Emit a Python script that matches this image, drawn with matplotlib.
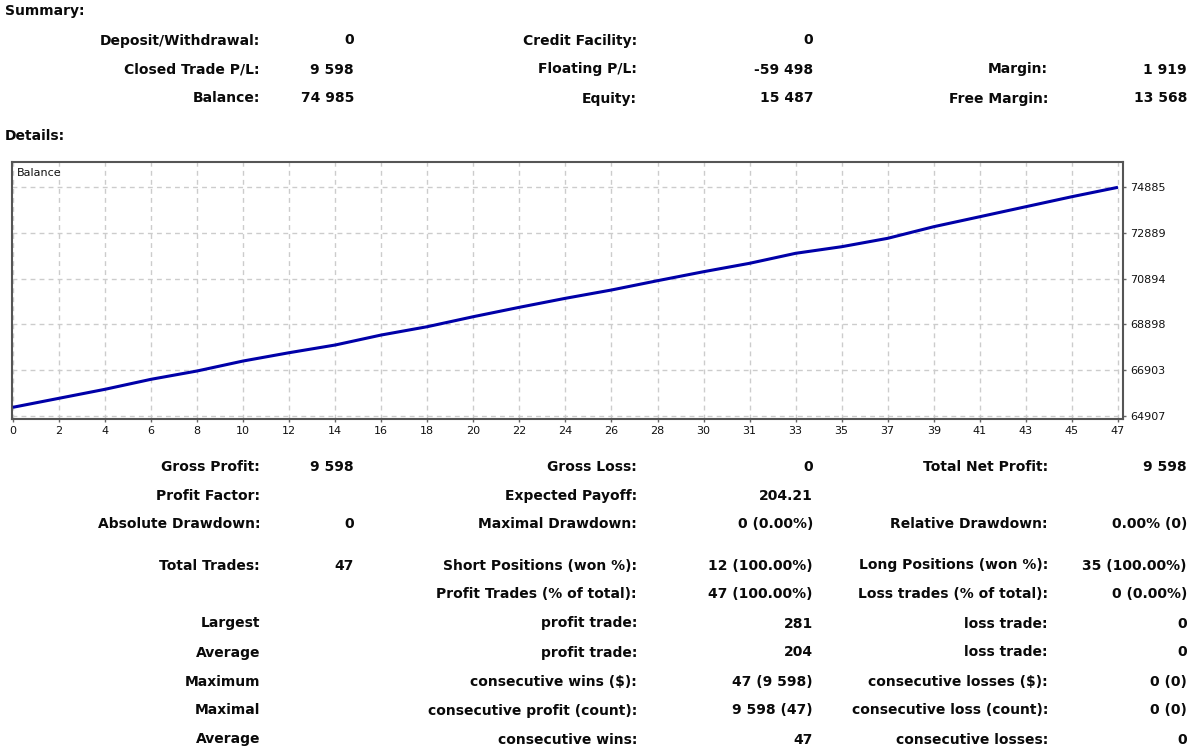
import matplotlib
matplotlib.use("Agg")
import matplotlib.pyplot as plt
import numpy as np

# ---- data ----
x_tick_labels = ["0", "2", "4", "6", "8", "10", "12", "14", "16", "18", "20", "22",
                 "24", "26", "28", "30", "31", "33", "35", "37", "39", "41", "43", "45", "47"]
# balance read at each labelled grid position
balance = [65286, 65678, 66070, 66506, 66868, 67303, 67665, 68000, 68436, 68798,
           69234, 69643, 70035, 70397, 70802, 71194, 71560, 71996, 72283, 72649,
           73155, 73590, 74026, 74462, 74871]
y_tick_values = [64907, 66903, 68898, 70894, 72889, 74885]

summary_rows = [
    [("Deposit/Withdrawal:", "0"), ("Credit Facility:", "0"), None],
    [("Closed Trade P/L:", "9 598"), ("Floating P/L:", "-59 498"), ("Margin:", "1 919")],
    [("Balance:", "74 985"), ("Equity:", "15 487"), ("Free Margin:", "13 568")],
]
detail_rows = [
    [("Gross Profit:", "9 598"), ("Gross Loss:", "0"), ("Total Net Profit:", "9 598")],
    [("Profit Factor:", ""), ("Expected Payoff:", "204.21"), None],
    [("Absolute Drawdown:", "0"), ("Maximal Drawdown:", "0 (0.00%)"), ("Relative Drawdown:", "0.00% (0)")],
    [("Total Trades:", "47"), ("Short Positions (won %):", "12 (100.00%)"), ("Long Positions (won %):", "35 (100.00%)")],
    [None, ("Profit Trades (% of total):", "47 (100.00%)"), ("Loss trades (% of total):", "0 (0.00%)")],
    [("Largest", ""), ("profit trade:", "281"), ("loss trade:", "0")],
    [("Average", ""), ("profit trade:", "204"), ("loss trade:", "0")],
    [("Maximum", ""), ("consecutive wins ($):", "47 (9 598)"), ("consecutive losses ($):", "0 (0)")],
    [("Maximal", ""), ("consecutive profit (count):", "9 598 (47)"), ("consecutive loss (count):", "0 (0)")],
    [("Average", ""), ("consecutive wins:", "47"), ("consecutive losses:", "0")],
]

W, H = 1200, 751
fig = plt.figure(figsize=(W / 100, H / 100), dpi=100)
fig.patch.set_facecolor("white")

def px(x, y):
    return x / W, 1 - y / H

FONT = "DejaVu Sans"
FS = 10
label_x = [260, 637, 1048]
value_x = [354, 813, 1187]

def put_rows(rows, ys):
    for row, yy in zip(rows, ys):
        for c, cell in enumerate(row):
            if cell is None:
                continue
            lab, val = cell
            fig.text(*px(label_x[c], yy), lab, ha="right", va="center_baseline",
                     fontsize=FS, fontweight="bold", family=FONT, color="#0a0a0a")
            if val:
                fig.text(*px(value_x[c], yy), val, ha="right", va="center_baseline",
                         fontsize=FS, fontweight="bold", family=FONT, color="#0a0a0a")

fig.text(*px(5, 9), "Summary:", ha="left", va="center_baseline", fontsize=FS,
         fontweight="bold", family=FONT, color="#0a0a0a")
put_rows(summary_rows, [39, 68, 97])
fig.text(*px(5, 135), "Details:", ha="left", va="center_baseline", fontsize=FS,
         fontweight="bold", family=FONT, color="#0a0a0a")
put_rows(detail_rows, [465, 494, 523, 564, 593, 622, 651, 680, 709, 738])

# ---- chart ----
left, right, top, bottom = 12, 1123, 162, 419
ax = fig.add_axes([left / W, 1 - bottom / H, (right - left) / W, (bottom - top) / H])
pos = np.arange(len(balance))
ax.plot(pos, balance, color="#0000a8", lw=2.2, solid_capstyle="butt", zorder=3)

ax.set_xlim(-0.02, len(balance) - 1 + 0.11)
ax.set_ylim(64776, 75974)
ax.set_xticks(pos)
ax.set_xticklabels(x_tick_labels)
ax.set_yticks(y_tick_values)
ax.set_yticklabels([str(v) for v in y_tick_values])
ax.yaxis.tick_right()
ax.tick_params(axis="both", length=2, width=1, color="#666666", labelsize=8, pad=3,
               labelcolor="#111111")
ax.tick_params(axis="y", pad=3)
ax.grid(True, color="#cccccc", linestyle=(0, (3.5, 3)), linewidth=1)
for s in ax.spines.values():
    s.set_color("#555555")
    s.set_linewidth(1.5)
ax.text(0.004, 0.975, "Balance", transform=ax.transAxes, ha="left", va="top",
        fontsize=8, color="#111111", family=FONT)

fig.savefig("out.png", dpi=100)
